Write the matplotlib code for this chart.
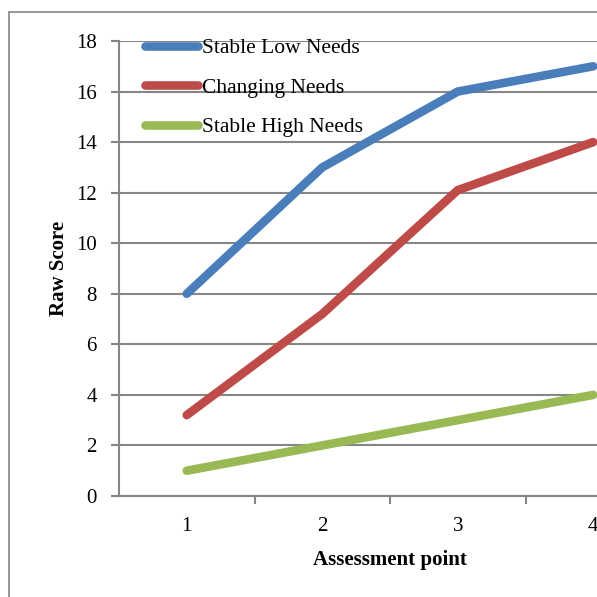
import matplotlib
matplotlib.use("Agg")
import matplotlib.pyplot as plt
from matplotlib.patches import Rectangle

categories = ["1", "2", "3", "4"]
stable_low = [8, 13, 16, 17]
changing = [3.2, 7.2, 12.1, 14]
stable_high = [1, 2, 3, 4]
series_names = ["Stable Low Needs", "Changing Needs", "Stable High Needs"]
colors = ["#4A7EBB", "#BE4B48", "#98B954"]
yticks = [0, 2, 4, 6, 8, 10, 12, 14, 16, 18]

plt.rcParams['font.family'] = ['Liberation Serif', 'DejaVu Serif']
FS = 15
W = H = 597
fig = plt.figure(figsize=(5.97, 5.97), dpi=100)

# outer chart border
fig.patches.append(Rectangle((9 / W, -0.1), 1.2, 1 - 12 / H + 0.1, transform=fig.transFigure,
                             fill=False, edgecolor="#868686", linewidth=1.2))

left, right = 119 / W, (119 + 4 * 135.5) / W
bottom, top = 1 - 496 / H, 1 - 41 / H
ax = fig.add_axes([left, bottom, right - left, top - bottom])
ax.set_facecolor("none")

x = list(range(1, len(categories) + 1))
for vals, name, c in zip([stable_low, changing, stable_high], series_names, colors):
    ax.plot(x, vals, color=c, linewidth=6.2, solid_capstyle="round", solid_joinstyle="miter", label=name, clip_on=False)

ax.set_xlim(0.5, 4.5)
ax.set_ylim(0, 18)
ax.set_yticks(yticks)
ax.set_yticklabels([str(v) for v in yticks], fontsize=FS)
ax.set_xticks(x)
ax.set_xticklabels(categories, fontsize=FS)
ax.set_xticks([1.5, 2.5, 3.5, 4.5], minor=True)
ax.tick_params(axis="x", which="major", length=0, pad=15)
ax.tick_params(axis="x", which="minor", length=6, width=1.5, color="#868686", direction="out")
ax.tick_params(axis="y", length=6, width=1.5, color="#868686", direction="out", pad=10)
ax.grid(axis="y", color="#868686", linewidth=1.5)
ax.set_axisbelow(True)
for s in ["top", "right"]:
    ax.spines[s].set_visible(False)
for s in ["left", "bottom"]:
    ax.spines[s].set_color("#868686")
    ax.spines[s].set_linewidth(1.5)

ax.set_ylabel("Raw Score", fontsize=FS, fontweight="bold")
ax.yaxis.set_label_coords(-(119 - 69) / (4 * 135.5), 0.5)
ax.set_xlabel("Assessment point", fontsize=FS, fontweight="bold")
ax.xaxis.set_label_coords((390 - 119) / (4 * 135.5), -(550 - 496) / 455)

leg = ax.legend(loc="upper left", bbox_to_anchor=(0.032, 1.025), frameon=False, fontsize=15.5,
                handlelength=2.45, handletextpad=0.2, labelspacing=0.9, borderaxespad=0)

fig.savefig("out.png", dpi=100)
